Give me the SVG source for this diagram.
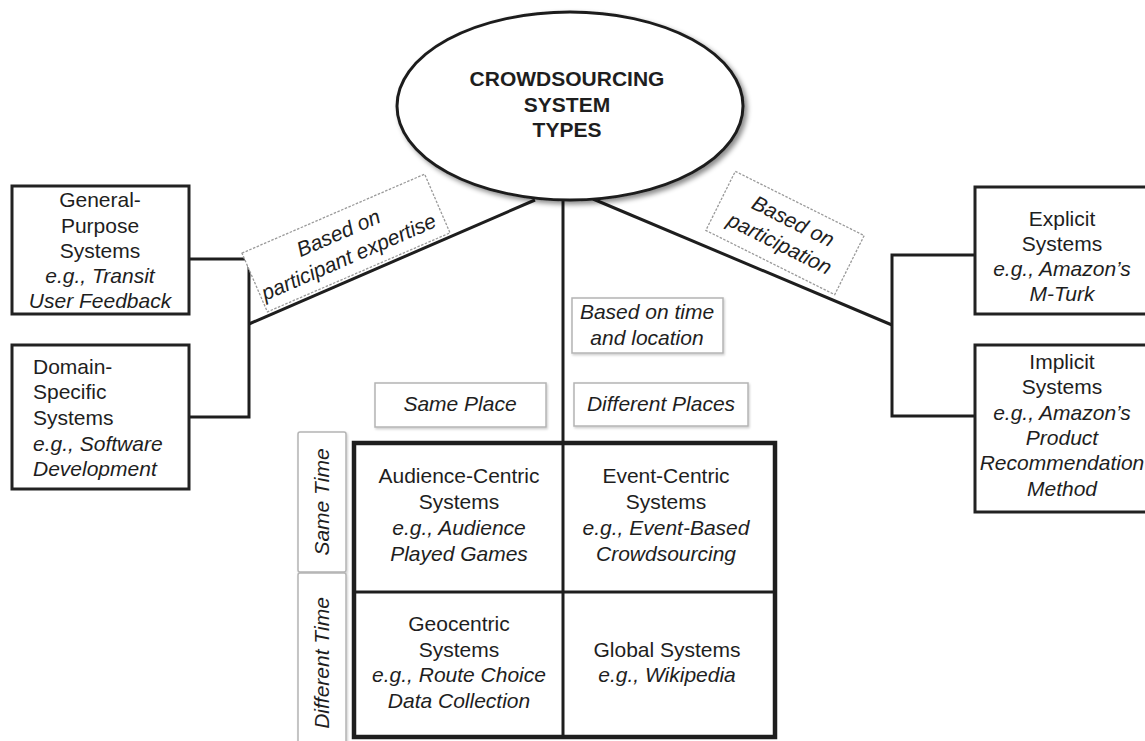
<svg xmlns="http://www.w3.org/2000/svg" width="1145" height="741" viewBox="0 0 1145 741">
  <defs>
    <filter id="shadow" x="-10%" y="-10%" width="125%" height="130%">
      <feDropShadow dx="3" dy="3" stdDeviation="2.5" flood-color="#000" flood-opacity="0.45"/>
    </filter>
    <filter id="softshadow" x="-10%" y="-10%" width="125%" height="130%">
      <feDropShadow dx="1" dy="1.5" stdDeviation="1" flood-color="#000" flood-opacity="0.2"/>
    </filter>
  </defs>
  <style>
    text { font-family: "Liberation Sans", Arial, sans-serif; font-size: 21px; fill: #1e1e1e; }
    .c { text-anchor: middle; }
    .i { font-style: italic; }
    .b { font-weight: bold; }
    .box { fill: #fff; stroke: #222; stroke-width: 3; }
    .lbl { fill: #fff; stroke: #b4b4b4; stroke-width: 1.5; filter: url(#softshadow); }
    .dlbl { fill: #fff; stroke: #9a9a9a; stroke-width: 1.3; stroke-dasharray: 2.5 1.5; }
    .ln { fill: none; stroke: #1e1e1e; stroke-width: 3; stroke-linejoin: miter; }
    .grid { fill: none; stroke: #1e1e1e; stroke-width: 4.5; }
  </style>
  <rect width="1145" height="741" fill="#fff"/>

  <g id="connectors">
    <line class="ln" x1="535" y1="200" x2="249" y2="324"/>
    <polyline class="ln" points="189,259 249,259 249,417 189,417"/>
    <line class="ln" x1="593" y1="199" x2="892" y2="325"/>
    <polyline class="ln" points="975,255 892,255 892,416 975,416"/>
    <line class="ln" x1="563" y1="195" x2="563" y2="445"/>
  </g>

  <g id="root">
    <ellipse cx="570" cy="106" rx="173" ry="94" fill="#fff" stroke="#1e1e1e" stroke-width="3" filter="url(#shadow)"/>
    <text class="c b" x="567" y="86">CROWDSOURCING</text>
    <text class="c b" x="567" y="112">SYSTEM</text>
    <text class="c b" x="567" y="137">TYPES</text>
  </g>

  <g id="label-expertise" transform="translate(346,243) rotate(-23.4)">
    <rect class="dlbl" x="-99.5" y="-32" width="199" height="64"/>
    <text class="c i" x="-3" y="-5">Based on</text>
    <text class="c i" x="-3" y="21">participant expertise</text>
  </g>

  <g id="label-participation" transform="translate(785,233) rotate(26.5)">
    <rect class="dlbl" x="-72" y="-33" width="144" height="66"/>
    <text class="c i" x="2" y="-7">Based on</text>
    <text class="c i" x="0" y="19">participation</text>
  </g>

  <g id="label-time-location">
    <rect class="lbl" x="572" y="298" width="151" height="55"/>
    <text class="c i" x="647" y="319">Based on time</text>
    <text class="c i" x="647" y="345">and location</text>
  </g>

  <g id="general-purpose">
    <rect class="box" x="12" y="186" width="177" height="128"/>
    <text class="c" x="100" y="207">General-</text>
    <text class="c" x="100" y="233">Purpose</text>
    <text class="c" x="100" y="258">Systems</text>
    <text class="c i" x="100" y="283">e.g., Transit</text>
    <text class="c i" x="100" y="308">User Feedback</text>
  </g>

  <g id="domain-specific">
    <rect class="box" x="12" y="345" width="177" height="144"/>
    <text x="33" y="374">Domain-</text>
    <text x="33" y="399">Specific</text>
    <text x="33" y="425">Systems</text>
    <text class="i" x="33" y="451">e.g., Software</text>
    <text class="i" x="33" y="476">Development</text>
  </g>

  <g id="explicit">
    <rect class="box" x="975" y="187" width="174" height="127"/>
    <text class="c" x="1062" y="226">Explicit</text>
    <text class="c" x="1062" y="251">Systems</text>
    <text class="c i" x="1062" y="276">e.g., Amazon’s</text>
    <text class="c i" x="1062" y="301">M-Turk</text>
  </g>

  <g id="implicit">
    <rect class="box" x="975" y="345" width="174" height="167"/>
    <text class="c" x="1062" y="369">Implicit</text>
    <text class="c" x="1062" y="394">Systems</text>
    <text class="c i" x="1062" y="420">e.g., Amazon’s</text>
    <text class="c i" x="1062" y="445">Product</text>
    <text class="c i" x="1062" y="470">Recommendation</text>
    <text class="c i" x="1062" y="496">Method</text>
  </g>

  <g id="label-same-place">
    <rect class="lbl" x="375" y="383" width="171" height="44"/>
    <text class="c i" x="460" y="411">Same Place</text>
  </g>
  <g id="label-different-places">
    <rect class="lbl" x="574" y="383" width="174" height="43"/>
    <text class="c i" x="661" y="411">Different Places</text>
  </g>

  <g id="label-same-time">
    <rect class="lbl" x="298" y="432" width="48" height="140" rx="2"/>
    <text class="c i" transform="translate(329,502) rotate(-90)">Same Time</text>
  </g>
  <g id="label-different-time">
    <rect class="lbl" x="298" y="573" width="48" height="175" rx="2"/>
    <text class="c i" transform="translate(329,663) rotate(-90)">Different Time</text>
  </g>

  <g id="grid">
    <rect class="grid" x="354" y="443" width="421" height="294"/>
    <line class="ln" x1="563" y1="443" x2="563" y2="737"/>
    <line class="ln" x1="354" y1="592" x2="775" y2="592"/>
  </g>

  <g id="audience-centric">
    <text class="c" x="459" y="483">Audience-Centric</text>
    <text class="c" x="459" y="509">Systems</text>
    <text class="c i" x="459" y="535">e.g., Audience</text>
    <text class="c i" x="459" y="561">Played Games</text>
  </g>
  <g id="event-centric">
    <text class="c" x="666" y="483">Event-Centric</text>
    <text class="c" x="666" y="509">Systems</text>
    <text class="c i" x="666" y="535">e.g., Event-Based</text>
    <text class="c i" x="666" y="561">Crowdsourcing</text>
  </g>
  <g id="geocentric">
    <text class="c" x="459" y="631">Geocentric</text>
    <text class="c" x="459" y="657">Systems</text>
    <text class="c i" x="459" y="682">e.g., Route Choice</text>
    <text class="c i" x="459" y="708">Data Collection</text>
  </g>
  <g id="global">
    <text class="c" x="667" y="657">Global Systems</text>
    <text class="c i" x="667" y="682">e.g., Wikipedia</text>
  </g>
</svg>
